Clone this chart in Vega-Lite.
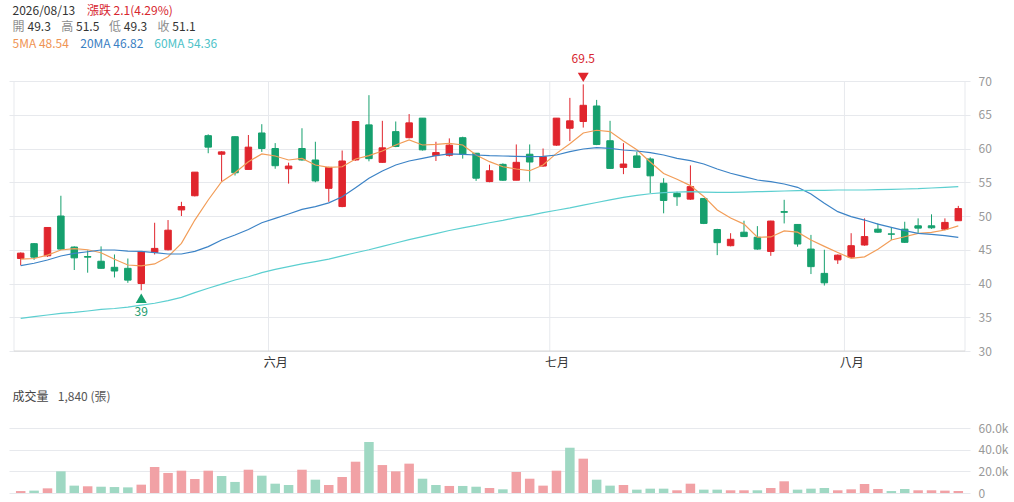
{
  "$schema": "https://vega.github.io/schema/vega-lite/v6.json",
  "description": "K線圖 2026/08/13，5MA / 20MA / 60MA 與成交量",
  "width": 961,
  "height": 502,
  "autosize": {"type": "none"},
  "padding": {"left": 9, "top": 0, "right": 44, "bottom": 0},
  "background": "white",
  "config": {
    "view": {"stroke": null},
    "font": "Noto Sans CJK TC",
    "text": {"font": "Noto Sans CJK TC"},
    "axis": {"labelFont": "Noto Sans CJK TC", "labelFontSize": 12, "labelColor": "#999999", "ticks": false, "tickSize": 0, "domain": false, "gridColor": "#e7e9ed", "gridWidth": 1}
  },
  "datasets": {
    "k": [
      {"i":0,"o":43.7,"h":44.6,"l":42.7,"c":44.5,"v":1800,"dir":"up","ma5":43.6,"ma20":42.65,"ma60":34.84},
      {"i":1,"o":45.9,"h":46.0,"l":43.5,"c":43.9,"v":2200,"dir":"down","ma5":43.7,"ma20":43.0,"ma60":35.09},
      {"i":2,"o":44.1,"h":48.35,"l":43.95,"c":48.3,"v":4300,"dir":"up","ma5":44.2,"ma20":43.48,"ma60":35.33},
      {"i":3,"o":50.0,"h":53.0,"l":45.0,"c":45.1,"v":20000,"dir":"down","ma5":44.96,"ma20":44.07,"ma60":35.58},
      {"i":4,"o":45.4,"h":45.5,"l":42.0,"c":43.8,"v":6800,"dir":"down","ma5":45.16,"ma20":44.47,"ma60":35.73},
      {"i":5,"o":44.0,"h":44.9,"l":41.6,"c":43.9,"v":6200,"dir":"up","ma5":45.0,"ma20":44.7,"ma60":35.93},
      {"i":6,"o":43.3,"h":45.5,"l":42.2,"c":42.25,"v":5800,"dir":"down","ma5":44.56,"ma20":44.96,"ma60":36.17},
      {"i":7,"o":42.4,"h":44.3,"l":40.9,"c":41.85,"v":5500,"dir":"down","ma5":43.6,"ma20":44.96,"ma60":36.3},
      {"i":8,"o":42.25,"h":43.7,"l":40.1,"c":40.5,"v":5200,"dir":"down","ma5":42.74,"ma20":44.8,"ma60":36.5},
      {"i":9,"o":40.0,"h":44.8,"l":39.0,"c":44.7,"v":7700,"dir":"up","ma5":42.6,"ma20":44.77,"ma60":36.8},
      {"i":10,"o":44.6,"h":49.0,"l":44.3,"c":45.2,"v":24000,"dir":"up","ma5":42.9,"ma20":44.56,"ma60":37.07},
      {"i":11,"o":45.0,"h":49.4,"l":44.9,"c":47.9,"v":18500,"dir":"up","ma5":43.97,"ma20":44.37,"ma60":37.46},
      {"i":12,"o":50.9,"h":52.1,"l":50.0,"c":51.4,"v":20600,"dir":"up","ma5":45.95,"ma20":44.37,"ma60":37.95},
      {"i":13,"o":53.0,"h":56.5,"l":52.9,"c":56.5,"v":12900,"dir":"up","ma5":49.4,"ma20":44.77,"ma60":38.64},
      {"i":14,"o":61.9,"h":62.1,"l":59.3,"c":60.2,"v":20600,"dir":"up","ma5":52.37,"ma20":45.46,"ma60":39.3},
      {"i":15,"o":59.15,"h":59.6,"l":55.1,"c":59.5,"v":15700,"dir":"down","ma5":55.08,"ma20":46.44,"ma60":39.9},
      {"i":16,"o":61.75,"h":61.8,"l":56.0,"c":56.4,"v":10200,"dir":"down","ma5":56.42,"ma20":47.19,"ma60":40.52},
      {"i":17,"o":56.9,"h":62.0,"l":56.9,"c":60.2,"v":21500,"dir":"up","ma5":58.05,"ma20":48.0,"ma60":41.0},
      {"i":18,"o":62.3,"h":63.6,"l":59.5,"c":60.0,"v":16000,"dir":"down","ma5":59.19,"ma20":49.0,"ma60":41.6},
      {"i":19,"o":60.0,"h":60.8,"l":57.0,"c":57.45,"v":8600,"dir":"down","ma5":58.89,"ma20":49.65,"ma60":42.1},
      {"i":20,"o":57.0,"h":57.9,"l":54.8,"c":57.4,"v":7400,"dir":"down","ma5":58.3,"ma20":50.3,"ma60":42.49},
      {"i":21,"o":60.0,"h":63.0,"l":58.2,"c":58.3,"v":21500,"dir":"up","ma5":58.54,"ma20":50.99,"ma60":42.9},
      {"i":22,"o":58.3,"h":61.0,"l":55.0,"c":55.2,"v":12300,"dir":"down","ma5":57.56,"ma20":51.38,"ma60":43.23},
      {"i":23,"o":54.1,"h":57.3,"l":52.1,"c":57.2,"v":7400,"dir":"up","ma5":57.2,"ma20":51.95,"ma60":43.6},
      {"i":24,"o":51.4,"h":59.7,"l":51.3,"c":58.15,"v":14800,"dir":"up","ma5":57.3,"ma20":52.86,"ma60":44.1},
      {"i":25,"o":58.3,"h":64.0,"l":58.2,"c":64.0,"v":28900,"dir":"up","ma5":58.44,"ma20":54.2,"ma60":44.55},
      {"i":26,"o":63.5,"h":67.9,"l":58.1,"c":58.5,"v":47100,"dir":"down","ma5":58.94,"ma20":55.58,"ma60":45.0},
      {"i":27,"o":57.95,"h":64.1,"l":57.9,"c":60.1,"v":25800,"dir":"up","ma5":59.63,"ma20":56.67,"ma60":45.5},
      {"i":28,"o":62.5,"h":64.0,"l":60.2,"c":60.3,"v":20000,"dir":"up","ma5":60.52,"ma20":57.56,"ma60":46.0},
      {"i":29,"o":61.6,"h":65.1,"l":61.5,"c":63.8,"v":27100,"dir":"up","ma5":61.26,"ma20":58.15,"ma60":46.5},
      {"i":30,"o":64.5,"h":64.5,"l":59.7,"c":59.8,"v":13200,"dir":"down","ma5":60.52,"ma20":58.54,"ma60":46.95},
      {"i":31,"o":58.95,"h":61.0,"l":58.15,"c":59.4,"v":7400,"dir":"down","ma5":60.62,"ma20":58.94,"ma60":47.4},
      {"i":32,"o":59.0,"h":61.5,"l":58.8,"c":60.5,"v":6500,"dir":"up","ma5":60.77,"ma20":59.19,"ma60":47.85},
      {"i":33,"o":61.6,"h":61.75,"l":58.5,"c":59.15,"v":6500,"dir":"down","ma5":60.52,"ma20":59.14,"ma60":48.25},
      {"i":34,"o":59.3,"h":59.3,"l":55.2,"c":55.6,"v":5800,"dir":"down","ma5":59.04,"ma20":59.04,"ma60":48.6},
      {"i":35,"o":55.1,"h":57.6,"l":55.0,"c":56.7,"v":4600,"dir":"up","ma5":58.05,"ma20":58.94,"ma60":49.0},
      {"i":36,"o":57.65,"h":57.8,"l":55.2,"c":55.3,"v":3400,"dir":"down","ma5":57.3,"ma20":58.89,"ma60":49.35},
      {"i":37,"o":55.3,"h":60.6,"l":55.3,"c":57.95,"v":19400,"dir":"up","ma5":56.96,"ma20":58.84,"ma60":49.75},
      {"i":38,"o":59.15,"h":60.6,"l":55.1,"c":58.0,"v":13200,"dir":"up","ma5":56.71,"ma20":58.8,"ma60":50.1},
      {"i":39,"o":57.4,"h":60.0,"l":57.3,"c":58.8,"v":6800,"dir":"up","ma5":57.56,"ma20":58.84,"ma60":50.5},
      {"i":40,"o":60.5,"h":64.5,"l":60.4,"c":64.5,"v":20600,"dir":"up","ma5":59.28,"ma20":59.04,"ma60":50.85},
      {"i":41,"o":63.0,"h":67.5,"l":61.1,"c":64.1,"v":41800,"dir":"down","ma5":60.7,"ma20":59.53,"ma60":51.2},
      {"i":42,"o":64.0,"h":69.5,"l":63.1,"c":66.4,"v":31700,"dir":"up","ma5":62.3,"ma20":59.93,"ma60":51.6},
      {"i":43,"o":66.3,"h":67.2,"l":60.5,"c":60.6,"v":12300,"dir":"down","ma5":62.7,"ma20":60.12,"ma60":52.0},
      {"i":44,"o":61.15,"h":64.1,"l":57.0,"c":57.05,"v":6800,"dir":"down","ma5":62.5,"ma20":60.02,"ma60":52.4},
      {"i":45,"o":57.2,"h":60.8,"l":56.2,"c":57.7,"v":7400,"dir":"up","ma5":61.1,"ma20":59.78,"ma60":52.75},
      {"i":46,"o":58.9,"h":59.5,"l":57.1,"c":57.2,"v":3100,"dir":"down","ma5":59.8,"ma20":59.63,"ma60":53.05},
      {"i":47,"o":58.45,"h":58.7,"l":53.4,"c":55.95,"v":4000,"dir":"down","ma5":58.0,"ma20":59.4,"ma60":53.3},
      {"i":48,"o":54.85,"h":55.6,"l":50.4,"c":52.3,"v":4000,"dir":"down","ma5":56.3,"ma20":59.04,"ma60":53.45},
      {"i":49,"o":53.35,"h":53.6,"l":51.5,"c":52.85,"v":2500,"dir":"up","ma5":55.45,"ma20":58.54,"ma60":53.55},
      {"i":50,"o":52.5,"h":57.5,"l":52.4,"c":54.35,"v":8600,"dir":"up","ma5":54.5,"ma20":58.2,"ma60":53.6},
      {"i":51,"o":52.6,"h":52.6,"l":48.8,"c":48.9,"v":3100,"dir":"down","ma5":52.9,"ma20":57.7,"ma60":53.55},
      {"i":52,"o":48.0,"h":48.1,"l":44.2,"c":46.05,"v":3100,"dir":"down","ma5":50.9,"ma20":56.96,"ma60":53.5},
      {"i":53,"o":45.6,"h":47.45,"l":45.5,"c":46.55,"v":2500,"dir":"up","ma5":49.7,"ma20":56.33,"ma60":53.5},
      {"i":54,"o":47.6,"h":49.3,"l":46.9,"c":46.95,"v":2500,"dir":"up","ma5":48.8,"ma20":55.83,"ma60":53.55},
      {"i":55,"o":46.85,"h":48.5,"l":45.0,"c":45.1,"v":2500,"dir":"down","ma5":46.85,"ma20":55.33,"ma60":53.6},
      {"i":56,"o":44.75,"h":49.3,"l":44.1,"c":49.25,"v":4600,"dir":"up","ma5":46.9,"ma20":55.08,"ma60":53.65},
      {"i":57,"o":50.65,"h":52.4,"l":48.9,"c":50.55,"v":10800,"dir":"up","ma5":47.8,"ma20":54.74,"ma60":53.7},
      {"i":58,"o":48.75,"h":48.8,"l":45.45,"c":45.85,"v":3100,"dir":"down","ma5":47.6,"ma20":54.25,"ma60":53.75},
      {"i":59,"o":45.1,"h":47.2,"l":41.4,"c":42.5,"v":4000,"dir":"down","ma5":46.45,"ma20":53.26,"ma60":53.8},
      {"i":60,"o":41.5,"h":45.0,"l":39.7,"c":40.1,"v":4600,"dir":"down","ma5":45.5,"ma20":51.88,"ma60":53.8},
      {"i":61,"o":43.5,"h":44.3,"l":42.9,"c":44.2,"v":2500,"dir":"up","ma5":44.6,"ma20":50.64,"ma60":53.85},
      {"i":62,"o":43.9,"h":47.45,"l":43.8,"c":45.6,"v":3400,"dir":"up","ma5":43.73,"ma20":49.9,"ma60":53.85},
      {"i":63,"o":45.7,"h":49.65,"l":45.6,"c":46.95,"v":8300,"dir":"up","ma5":43.95,"ma20":49.4,"ma60":53.85},
      {"i":64,"o":48.05,"h":48.9,"l":47.5,"c":47.6,"v":3700,"dir":"up","ma5":45.07,"ma20":48.8,"ma60":53.9},
      {"i":65,"o":47.35,"h":48.3,"l":46.45,"c":47.3,"v":1800,"dir":"down","ma5":46.44,"ma20":48.32,"ma60":53.95},
      {"i":66,"o":48.05,"h":49.15,"l":46.0,"c":46.1,"v":3700,"dir":"down","ma5":46.93,"ma20":47.83,"ma60":54.0},
      {"i":67,"o":48.55,"h":49.65,"l":47.45,"c":48.2,"v":2500,"dir":"up","ma5":47.43,"ma20":47.43,"ma60":54.05},
      {"i":68,"o":48.55,"h":50.25,"l":48.1,"c":48.25,"v":2500,"dir":"up","ma5":47.58,"ma20":47.28,"ma60":54.15},
      {"i":69,"o":48.05,"h":49.65,"l":47.9,"c":49.05,"v":2200,"dir":"up","ma5":47.93,"ma20":47.09,"ma60":54.25},
      {"i":70,"o":49.3,"h":51.5,"l":49.3,"c":51.1,"v":1840,"dir":"up","ma5":48.54,"ma20":46.82,"ma60":54.36}
    ]
  },
  "layer": [
    {
      "layer": [
        {
          "data": {"values": [{"b": -0.5}, {"b": 18.5}, {"b": 39.5}, {"b": 61.5}, {"b": 70.5}]},
          "mark": {"type": "rule", "color": "#e7e9ed", "strokeWidth": 1},
          "encoding": {
            "x": {"field": "b", "type": "quantitative", "title": null, "scale": {"domain": [-0.5, 70.5], "nice": false, "zero": false}},
            "y": {"datum": 30, "type": "quantitative", "scale": {"domain": [30, 81], "range": [351, 6.75], "nice": false, "zero": false}},
            "y2": {"datum": 70}
          }
        },
        {
          "data": {"values": [{"b": -0.5, "e": 70.5}]},
          "mark": {"type": "rule", "color": "#d9d9d9", "strokeWidth": 1},
          "encoding": {
            "x": {"field": "b", "type": "quantitative", "title": null, "scale": {"domain": [-0.5, 70.5], "nice": false, "zero": false}},
            "x2": {"field": "e"},
            "y": {"datum": 30, "type": "quantitative", "scale": {"domain": [30, 81], "range": [351, 6.75], "nice": false, "zero": false}}
          }
        },
        {
          "data": {"name": "k"},
          "mark": {"type": "rule", "strokeWidth": 1},
          "encoding": {
            "x": {
              "field": "i",
              "type": "quantitative",
              "title": null,
              "scale": {"domain": [-0.5, 70.5], "nice": false, "zero": false},
              "axis": {
                "orient": "bottom",
                "offset": -151,
                "values": [19, 40, 62],
                "labelExpr": "datum.value == 19 ? '六月' : datum.value == 40 ? '七月' : '八月'",
                "grid": false,
                "domain": false,
                "labelColor": "#333333",
                "labelPadding": 6,
                "title": null
              }
            },
            "y": {
              "field": "l",
              "type": "quantitative",
              "title": null,
              "scale": {"domain": [30, 81], "range": [351, 6.75], "nice": false, "zero": false},
              "axis": {"orient": "right", "values": [30, 35, 40, 45, 50, 55, 60, 65, 70], "grid": true, "labelPadding": 8, "title": null}
            },
            "y2": {"field": "h"},
            "color": {"condition": {"test": "datum.c >= datum.o", "value": "#e0252d"}, "value": "#16a06e"}
          }
        },
        {
          "data": {"name": "k"},
          "mark": {"type": "bar", "size": 6.5, "strokeWidth": 1},
          "encoding": {
            "x": {"field": "i", "type": "quantitative", "title": null, "scale": {"domain": [-0.5, 70.5], "nice": false, "zero": false}},
            "y": {"field": "o", "type": "quantitative", "title": null, "scale": {"domain": [30, 81], "range": [351, 6.75], "nice": false, "zero": false}},
            "y2": {"field": "c"},
            "fill": {"condition": {"test": "datum.c >= datum.o", "value": "#e0252d"}, "value": "#16a06e"},
            "stroke": {"condition": {"test": "datum.c >= datum.o", "value": "#e0252d"}, "value": "#16a06e"}
          }
        },
        {
          "data": {"name": "k"},
          "mark": {"type": "line", "color": "#f29d58", "strokeWidth": 1.2},
          "encoding": {
            "x": {"field": "i", "type": "quantitative", "title": null, "scale": {"domain": [-0.5, 70.5], "nice": false, "zero": false}},
            "y": {"field": "ma5", "type": "quantitative", "title": null, "scale": {"domain": [30, 81], "range": [351, 6.75], "nice": false, "zero": false}}
          }
        },
        {
          "data": {"name": "k"},
          "mark": {"type": "line", "color": "#3c83c6", "strokeWidth": 1.2},
          "encoding": {
            "x": {"field": "i", "type": "quantitative", "title": null, "scale": {"domain": [-0.5, 70.5], "nice": false, "zero": false}},
            "y": {"field": "ma20", "type": "quantitative", "title": null, "scale": {"domain": [30, 81], "range": [351, 6.75], "nice": false, "zero": false}}
          }
        },
        {
          "data": {"name": "k"},
          "mark": {"type": "line", "color": "#5ccfd0", "strokeWidth": 1.2},
          "encoding": {
            "x": {"field": "i", "type": "quantitative", "title": null, "scale": {"domain": [-0.5, 70.5], "nice": false, "zero": false}},
            "y": {"field": "ma60", "type": "quantitative", "title": null, "scale": {"domain": [30, 81], "range": [351, 6.75], "nice": false, "zero": false}}
          }
        },
        {
          "data": {"values": [{"i": 42, "p": 69.5, "t": "69.5"}]},
          "mark": {"type": "point", "shape": "triangle-down", "filled": true, "size": 120, "color": "#e0252d", "opacity": 1, "yOffset": -7},
          "encoding": {
            "x": {"field": "i", "type": "quantitative", "title": null, "scale": {"domain": [-0.5, 70.5], "nice": false, "zero": false}},
            "y": {"field": "p", "type": "quantitative", "title": null, "scale": {"domain": [30, 81], "range": [351, 6.75], "nice": false, "zero": false}}
          }
        },
        {
          "data": {"values": [{"i": 42, "p": 69.5, "t": "69.5"}]},
          "mark": {"type": "text", "color": "#d7262f", "fontSize": 12, "yOffset": -25},
          "encoding": {
            "x": {"field": "i", "type": "quantitative", "title": null, "scale": {"domain": [-0.5, 70.5], "nice": false, "zero": false}},
            "y": {"field": "p", "type": "quantitative", "title": null, "scale": {"domain": [30, 81], "range": [351, 6.75], "nice": false, "zero": false}},
            "text": {"field": "t"}
          }
        },
        {
          "data": {"values": [{"i": 9, "p": 39, "t": "39"}]},
          "mark": {"type": "point", "shape": "triangle-up", "filled": true, "size": 120, "color": "#16a06e", "opacity": 1, "yOffset": 8},
          "encoding": {
            "x": {"field": "i", "type": "quantitative", "title": null, "scale": {"domain": [-0.5, 70.5], "nice": false, "zero": false}},
            "y": {"field": "p", "type": "quantitative", "title": null, "scale": {"domain": [30, 81], "range": [351, 6.75], "nice": false, "zero": false}}
          }
        },
        {
          "data": {"values": [{"i": 9, "p": 39, "t": "39"}]},
          "mark": {"type": "text", "color": "#1a9a6b", "fontSize": 12, "yOffset": 21.5},
          "encoding": {
            "x": {"field": "i", "type": "quantitative", "title": null, "scale": {"domain": [-0.5, 70.5], "nice": false, "zero": false}},
            "y": {"field": "p", "type": "quantitative", "title": null, "scale": {"domain": [30, 81], "range": [351, 6.75], "nice": false, "zero": false}},
            "text": {"field": "t"}
          }
        },
        {
          "data": {"values": [{"t": "2026/08/13"}]},
          "mark": {"type": "text", "align": "left", "baseline": "middle", "fontSize": 12, "color": "#333333"},
          "encoding": {
            "x": {"datum": -0.61, "type": "quantitative", "scale": {"domain": [-0.5, 70.5], "nice": false, "zero": false}},
            "y": {"datum": 80.3, "type": "quantitative", "scale": {"domain": [30, 81], "range": [351, 6.75], "nice": false, "zero": false}},
            "text": {"field": "t"}
          }
        },
        {
          "data": {"values": [{"t": "漲跌 2.1(4.29%)"}]},
          "mark": {"type": "text", "align": "left", "baseline": "middle", "fontSize": 12, "color": "#d7262f"},
          "encoding": {
            "x": {"datum": 4.945, "type": "quantitative", "scale": {"domain": [-0.5, 70.5], "nice": false, "zero": false}},
            "y": {"datum": 80.3, "type": "quantitative", "scale": {"domain": [30, 81], "range": [351, 6.75], "nice": false, "zero": false}},
            "text": {"field": "t"}
          }
        },
        {
          "data": {"values": [{"t": "開"}]},
          "mark": {"type": "text", "align": "left", "baseline": "middle", "fontSize": 12, "color": "#8c8c8c"},
          "encoding": {
            "x": {"datum": -0.61, "type": "quantitative", "scale": {"domain": [-0.5, 70.5], "nice": false, "zero": false}},
            "y": {"datum": 77.93, "type": "quantitative", "scale": {"domain": [30, 81], "range": [351, 6.75], "nice": false, "zero": false}},
            "text": {"field": "t"}
          }
        },
        {
          "data": {"values": [{"t": "49.3"}]},
          "mark": {"type": "text", "align": "left", "baseline": "middle", "fontSize": 12, "color": "#333333"},
          "encoding": {
            "x": {"datum": 0.51, "type": "quantitative", "scale": {"domain": [-0.5, 70.5], "nice": false, "zero": false}},
            "y": {"datum": 77.93, "type": "quantitative", "scale": {"domain": [30, 81], "range": [351, 6.75], "nice": false, "zero": false}},
            "text": {"field": "t"}
          }
        },
        {
          "data": {"values": [{"t": "高"}]},
          "mark": {"type": "text", "align": "left", "baseline": "middle", "fontSize": 12, "color": "#8c8c8c"},
          "encoding": {
            "x": {"datum": 3.02, "type": "quantitative", "scale": {"domain": [-0.5, 70.5], "nice": false, "zero": false}},
            "y": {"datum": 77.93, "type": "quantitative", "scale": {"domain": [30, 81], "range": [351, 6.75], "nice": false, "zero": false}},
            "text": {"field": "t"}
          }
        },
        {
          "data": {"values": [{"t": "51.5"}]},
          "mark": {"type": "text", "align": "left", "baseline": "middle", "fontSize": 12, "color": "#333333"},
          "encoding": {
            "x": {"datum": 4.13, "type": "quantitative", "scale": {"domain": [-0.5, 70.5], "nice": false, "zero": false}},
            "y": {"datum": 77.93, "type": "quantitative", "scale": {"domain": [30, 81], "range": [351, 6.75], "nice": false, "zero": false}},
            "text": {"field": "t"}
          }
        },
        {
          "data": {"values": [{"t": "低"}]},
          "mark": {"type": "text", "align": "left", "baseline": "middle", "fontSize": 12, "color": "#8c8c8c"},
          "encoding": {
            "x": {"datum": 6.59, "type": "quantitative", "scale": {"domain": [-0.5, 70.5], "nice": false, "zero": false}},
            "y": {"datum": 77.93, "type": "quantitative", "scale": {"domain": [30, 81], "range": [351, 6.75], "nice": false, "zero": false}},
            "text": {"field": "t"}
          }
        },
        {
          "data": {"values": [{"t": "49.3 "}]},
          "mark": {"type": "text", "align": "left", "baseline": "middle", "fontSize": 12, "color": "#333333"},
          "encoding": {
            "x": {"datum": 7.7, "type": "quantitative", "scale": {"domain": [-0.5, 70.5], "nice": false, "zero": false}},
            "y": {"datum": 77.93, "type": "quantitative", "scale": {"domain": [30, 81], "range": [351, 6.75], "nice": false, "zero": false}},
            "text": {"field": "t"}
          }
        },
        {
          "data": {"values": [{"t": "收"}]},
          "mark": {"type": "text", "align": "left", "baseline": "middle", "fontSize": 12, "color": "#8c8c8c"},
          "encoding": {
            "x": {"datum": 10.21, "type": "quantitative", "scale": {"domain": [-0.5, 70.5], "nice": false, "zero": false}},
            "y": {"datum": 77.93, "type": "quantitative", "scale": {"domain": [30, 81], "range": [351, 6.75], "nice": false, "zero": false}},
            "text": {"field": "t"}
          }
        },
        {
          "data": {"values": [{"t": "51.1"}]},
          "mark": {"type": "text", "align": "left", "baseline": "middle", "fontSize": 12, "color": "#333333"},
          "encoding": {
            "x": {"datum": 11.32, "type": "quantitative", "scale": {"domain": [-0.5, 70.5], "nice": false, "zero": false}},
            "y": {"datum": 77.93, "type": "quantitative", "scale": {"domain": [30, 81], "range": [351, 6.75], "nice": false, "zero": false}},
            "text": {"field": "t"}
          }
        },
        {
          "data": {"values": [{"t": "5MA 48.54"}]},
          "mark": {"type": "text", "align": "left", "baseline": "middle", "fontSize": 12, "color": "#ef9453"},
          "encoding": {
            "x": {"datum": -0.61, "type": "quantitative", "scale": {"domain": [-0.5, 70.5], "nice": false, "zero": false}},
            "y": {"datum": 75.48, "type": "quantitative", "scale": {"domain": [30, 81], "range": [351, 6.75], "nice": false, "zero": false}},
            "text": {"field": "t"}
          }
        },
        {
          "data": {"values": [{"t": "20MA 46.82"}]},
          "mark": {"type": "text", "align": "left", "baseline": "middle", "fontSize": 12, "color": "#3a80c3"},
          "encoding": {
            "x": {"datum": 4.45, "type": "quantitative", "scale": {"domain": [-0.5, 70.5], "nice": false, "zero": false}},
            "y": {"datum": 75.48, "type": "quantitative", "scale": {"domain": [30, 81], "range": [351, 6.75], "nice": false, "zero": false}},
            "text": {"field": "t"}
          }
        },
        {
          "data": {"values": [{"t": "60MA 54.36"}]},
          "mark": {"type": "text", "align": "left", "baseline": "middle", "fontSize": 12, "color": "#4dc2c8"},
          "encoding": {
            "x": {"datum": 9.97, "type": "quantitative", "scale": {"domain": [-0.5, 70.5], "nice": false, "zero": false}},
            "y": {"datum": 75.48, "type": "quantitative", "scale": {"domain": [30, 81], "range": [351, 6.75], "nice": false, "zero": false}},
            "text": {"field": "t"}
          }
        }
      ]
    },
    {
      "layer": [
        {
          "data": {"name": "k"},
          "mark": {"type": "bar", "size": 9.5},
          "encoding": {
            "x": {"field": "i", "type": "quantitative", "title": null, "scale": {"domain": [-0.5, 70.5], "nice": false, "zero": false}},
            "y": {
              "field": "v",
              "type": "quantitative",
              "title": null,
              "scale": {"domain": [0, 95000], "range": [493, 390.1], "nice": false},
              "axis": {"orient": "right", "values": [0, 20000, 40000, 60000], "grid": true, "labelPadding": 8, "title": null, "labelExpr": "datum.value == 0 ? '0' : format(datum.value / 1000, '.1f') + 'k'"}
            },
            "color": {"field": "dir", "type": "nominal", "scale": {"domain": ["up", "down"], "range": ["#f1a1a5", "#9fd8c3"]}, "legend": null}
          }
        },
        {
          "data": {"values": [{"t": "成交量"}]},
          "mark": {"type": "text", "align": "left", "baseline": "middle", "fontSize": 12, "color": "#444444"},
          "encoding": {
            "x": {"datum": -0.61, "type": "quantitative", "scale": {"domain": [-0.5, 70.5], "nice": false, "zero": false}},
            "y": {"datum": 88600, "type": "quantitative", "scale": {"domain": [0, 95000], "range": [493, 390.1], "nice": false}},
            "text": {"field": "t"}
          }
        },
        {
          "data": {"values": [{"t": "1,840 (張)"}]},
          "mark": {"type": "text", "align": "left", "baseline": "middle", "fontSize": 12, "color": "#555555"},
          "encoding": {
            "x": {"datum": 2.77, "type": "quantitative", "scale": {"domain": [-0.5, 70.5], "nice": false, "zero": false}},
            "y": {"datum": 88600, "type": "quantitative", "scale": {"domain": [0, 95000], "range": [493, 390.1], "nice": false}},
            "text": {"field": "t"}
          }
        }
      ]
    }
  ],
  "resolve": {"scale": {"y": "independent"}}
}
